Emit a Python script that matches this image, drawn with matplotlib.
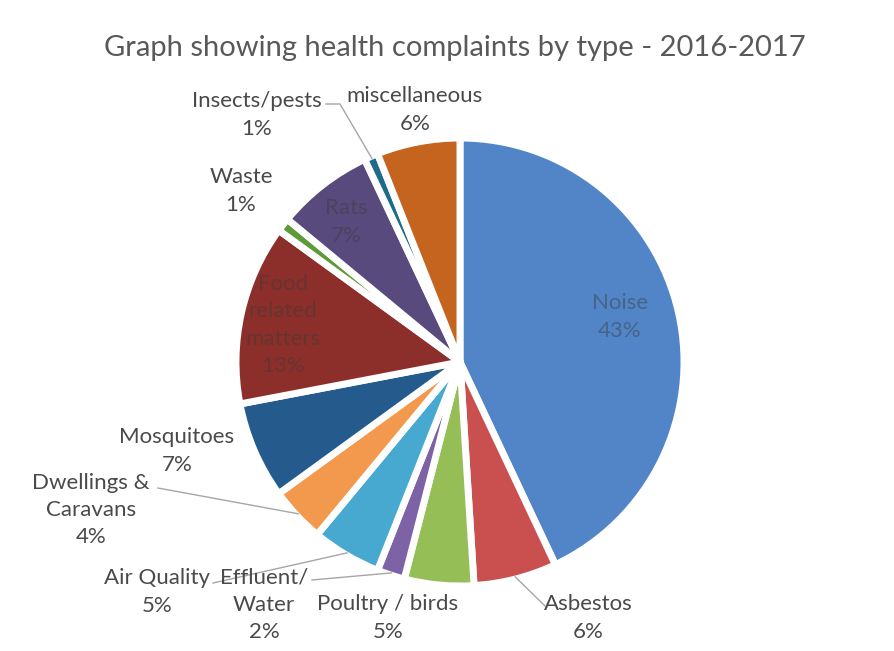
import numpy as np
import matplotlib
matplotlib.use("Agg")
import matplotlib.pyplot as plt

# data
categories = ["Noise", "Asbestos", "Poultry / birds", "Effluent/\nWater", "Air Quality",
              "Dwellings &\nCaravans", "Mosquitoes", "Food\nrelated\nmatters", "Waste",
              "Rats", "Insects/pests", "miscellaneous"]
percent = [43, 6, 5, 2, 5, 4, 7, 13, 1, 7, 1, 6]
colors = ["#5285C8", "#C9504E", "#95BE57", "#7E62A6", "#47A9D0", "#F2994D",
          "#245A8C", "#8C2F2B", "#5F9A3A", "#594A7E", "#1E6B8A", "#C4641E"]

title = "Graph showing health complaints by type - 2016-2017"

W, H = 895, 651

# label layout (image pixel coords, y from top)
inside = {"Noise": (620, 317), "Rats": (346, 222), "Food\nrelated\nmatters": (283, 325)}
outside = {
    "Insects/pests": (257, 115),
    "miscellaneous": (415, 110),
    "Waste": (241, 191),
    "Mosquitoes": (177, 451),
    "Dwellings &\nCaravans": (91, 510),
    "Air Quality": (157, 592),
    "Effluent/\nWater": (264, 605),
    "Poultry / birds": (388, 618),
    "Asbestos": (588, 618),
}
# leader line start points
leaders = {
    "Insects/pests": [(326, 104), (340, 104)],
    "Dwellings &\nCaravans": [(158, 488)],
    "Air Quality": [(213, 583)],
    "Effluent/\nWater": [(312, 580)],
    "Asbestos": [(545, 606)],
}

plt.rcParams["font.family"] = ["Lato", "DejaVu Sans"]

fig = plt.figure(figsize=(W / 100, H / 100), dpi=100)
ax = fig.add_axes([0, 0, 1, 1])

cx, cy, R = 460, H - 362, 224
wedges, _ = ax.pie(percent, colors=colors, startangle=90, counterclock=False,
                   center=(cx, cy), radius=R, frame=True,
                   wedgeprops=dict(edgecolor="white", linewidth=5, joinstyle="round"))
ax.set_xlim(0, W)
ax.set_ylim(0, H)
ax.set_aspect("equal")
ax.axis("off")

for w, name, p in zip(wedges, categories, percent):
    txt = f"{name}\n{p}%"
    if name in inside:
        x, y = inside[name]
        ax.text(x, H - y, txt, ha="center", va="center", fontsize=16,
                color="#3a3a3a", alpha=0.45, linespacing=1.45)
    else:
        x, y = outside[name]
        ax.text(x, H - y, txt, ha="center", va="center", fontsize=16,
                color="#4a4a4a", linespacing=1.45)
    if name in leaders:
        mid = np.deg2rad((w.theta1 + w.theta2) / 2)
        px = cx + R * 0.99 * np.cos(mid)
        py = cy + R * 0.99 * np.sin(mid)
        pts = [(a, H - b) for a, b in leaders[name]] + [(px, py)]
        ax.plot([q[0] for q in pts], [q[1] for q in pts], color="#A6A6A6", lw=1)

ax.text(455, H - 48, title, ha="center", va="center", fontsize=21, color="#595959")

fig.savefig("out.png", dpi=100, facecolor="white")
